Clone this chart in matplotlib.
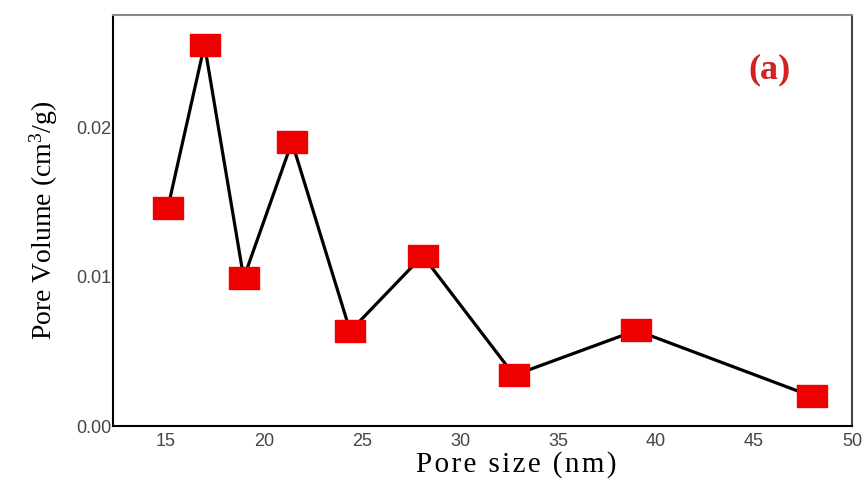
import matplotlib
matplotlib.use("Agg")
import matplotlib.pyplot as plt

pore_size = [15.1, 16.97, 18.97, 21.43, 24.4, 28.1, 32.76, 39.0, 47.94]
pore_volume = [0.0146, 0.0255, 0.0099, 0.0190, 0.00635, 0.0114, 0.0034, 0.0064, 0.0020]
x_ticks = [15, 20, 25, 30, 35, 40, 45, 50]
y_ticks = [0.00, 0.01, 0.02]
y_tick_labels = ["0.00", "0.01", "0.02"]

plt.rcParams["mathtext.fontset"] = "custom"
plt.rcParams["mathtext.rm"] = "Liberation Serif"

fig = plt.figure(figsize=(8.65, 4.82), dpi=100)
ax = fig.add_axes([0.1306, 0.116, 0.8544, 0.853])

rect = [(-1.35, -1), (1.35, -1), (1.35, 1), (-1.35, 1), (-1.35, -1)]
ax.plot(pore_size, pore_volume, color="black", linewidth=2.3, zorder=2)
ax.plot(pore_size, pore_volume, linestyle="none", marker=rect, markersize=22,
        markerfacecolor="#ee0000", markeredgecolor="#ee0000", zorder=3)

ax.set_xlim(12.3, 50)
ax.set_ylim(0, 0.0275)
ax.set_xticks(x_ticks)
ax.set_yticks(y_ticks)
ax.set_yticklabels(y_tick_labels)
ax.tick_params(length=0, labelsize=13, labelcolor="#444444")
ax.tick_params(axis="y", pad=1)
ax.tick_params(axis="x", pad=5)
for lab in ax.get_xticklabels() + ax.get_yticklabels():
    lab.set_family("Liberation Sans")

ax.spines["left"].set_color("black")
ax.spines["bottom"].set_color("black")
ax.spines["right"].set_color("#444444")
ax.spines["top"].set_color("#888888")
for s in ax.spines.values():
    s.set_linewidth(1.5)

xlabel = "\u200a".join("Pore size (nm)")
ax.set_xlabel(xlabel, family=["Liberation Serif", "DejaVu Serif"], fontsize=21)
ax.xaxis.set_label_coords(0.545, -0.06)
ax.set_ylabel("Pore Volume (cm$\\mathregular{^3}$/g)", family="Liberation Serif",
              fontsize=20, labelpad=12)

ax.text(0.889, 0.866, "(a)", transform=ax.transAxes, ha="center", va="center",
        family="Liberation Serif", fontweight="bold", fontsize=26, color="#d42020")

fig.savefig("out.png", dpi=100)
